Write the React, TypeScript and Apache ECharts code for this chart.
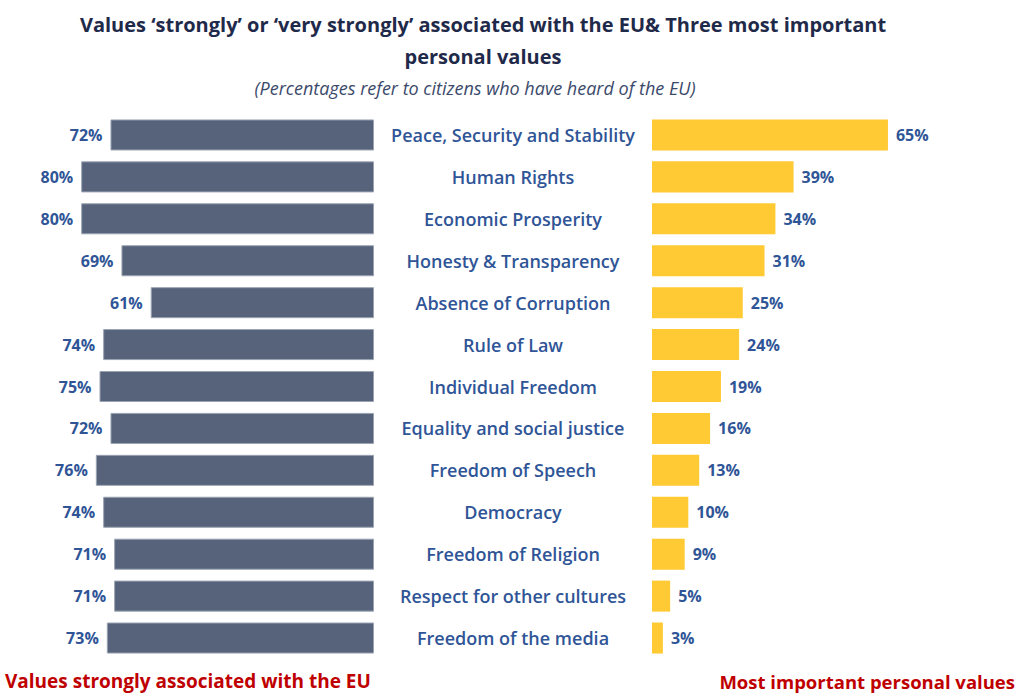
import React, { useEffect, useRef } from "react";
import * as echarts from "echarts";

const categories = [
  "Peace, Security and Stability",
  "Human Rights",
  "Economic Prosperity",
  "Honesty & Transparency",
  "Absence of Corruption",
  "Rule of Law",
  "Individual Freedom",
  "Equality and social justice",
  "Freedom of Speech",
  "Democracy",
  "Freedom of Religion",
  "Respect for other cultures",
  "Freedom of the media",
];
const euValues = [72, 80, 80, 69, 61, 74, 75, 72, 76, 74, 71, 71, 73];
const personalValues = [65, 39, 34, 31, 25, 24, 19, 16, 13, 10, 9, 5, 3];

const titleLine1 = "Values \u2018strongly\u2019 or \u2018very strongly\u2019 associated with the EU& Three most important";
const titleLine2 = "personal values";
const subtitle = "(Percentages refer to citizens who have heard of the EU)";
const leftFooter = "Values strongly associated with the EU";
const rightFooter = "Most important personal values";

const FONT = "'Open Sans', sans-serif";
const BLUE = "#2F5597";
const DARK = "#56637A";
const YELLOW = "#FFCA33";
const RED = "#C00000";

export default function App() {
  const ref = useRef<HTMLDivElement>(null);
  useEffect(() => {
    const chart = echarts.init(ref.current!, null, { renderer: "svg" });
    const titleStyle = {
      fontFamily: FONT,
      fontWeight: "bold",
      fontSize: 20,
      fill: "#1F2A4A",
      align: "center",
      verticalAlign: "middle",
    };
    chart.setOption({
      animation: false,
      backgroundColor: "#ffffff",
      graphic: [
        { type: "text", x: 483, y: 24, style: { ...titleStyle, text: titleLine1 } },
        { type: "text", x: 483, y: 56, style: { ...titleStyle, text: titleLine2 } },
        {
          type: "text",
          x: 475,
          y: 88,
          style: {
            text: subtitle,
            fontFamily: FONT,
            fontStyle: "italic",
            fontSize: 18,
            fill: "#3B4A6B",
            align: "center",
            verticalAlign: "middle",
          },
        },
        {
          type: "text",
          x: 5,
          y: 681,
          style: {
            text: leftFooter,
            fontFamily: FONT,
            fontWeight: "bold",
            fontSize: 19,
            fill: RED,
            align: "left",
            verticalAlign: "middle",
          },
        },
        {
          type: "text",
          x: 1015,
          y: 681,
          style: {
            text: rightFooter,
            fontFamily: FONT,
            fontWeight: "bold",
            fontSize: 18.5,
            fill: RED,
            align: "right",
            verticalAlign: "middle",
          },
        },
      ],
      grid: [
        { left: 8, width: 366, top: 114, height: 545 },
        { left: 652, width: 363, top: 114, height: 545 },
      ],
      xAxis: [
        { gridIndex: 0, type: "value", min: 0, max: 100, inverse: true, show: false },
        { gridIndex: 1, type: "value", min: 0, max: 100, show: false },
      ],
      yAxis: [
        {
          gridIndex: 0,
          type: "category",
          data: categories,
          inverse: true,
          position: "right",
          axisLine: { show: false },
          axisTick: { show: false },
          axisLabel: {
            margin: 139,
            align: "center",
            color: BLUE,
            fontFamily: FONT,
            fontWeight: 600,
            fontSize: 18,
          },
        },
        {
          gridIndex: 1,
          type: "category",
          data: categories,
          inverse: true,
          show: false,
        },
      ],
      series: [
        {
          type: "bar",
          xAxisIndex: 0,
          yAxisIndex: 0,
          data: euValues,
          barCategoryGap: "26%",
          itemStyle: { color: DARK, borderColor: "#9AA3B2", borderWidth: 1 },
          label: {
            show: true,
            position: "left",
            distance: 8,
            formatter: "{c}%",
            color: BLUE,
            fontFamily: FONT,
            fontWeight: "bold",
            fontSize: 16,
          },
        },
        {
          type: "bar",
          xAxisIndex: 1,
          yAxisIndex: 1,
          data: personalValues,
          barCategoryGap: "26%",
          itemStyle: { color: YELLOW },
          label: {
            show: true,
            position: "right",
            distance: 8,
            formatter: "{c}%",
            color: BLUE,
            fontFamily: FONT,
            fontWeight: "bold",
            fontSize: 16,
          },
        },
      ],
    });
    return () => chart.dispose();
  }, []);
  return (
    <div
      ref={ref}
      style={{ position: "fixed", left: 0, top: 0, width: 1020, height: 694 }}
    />
  );
}
